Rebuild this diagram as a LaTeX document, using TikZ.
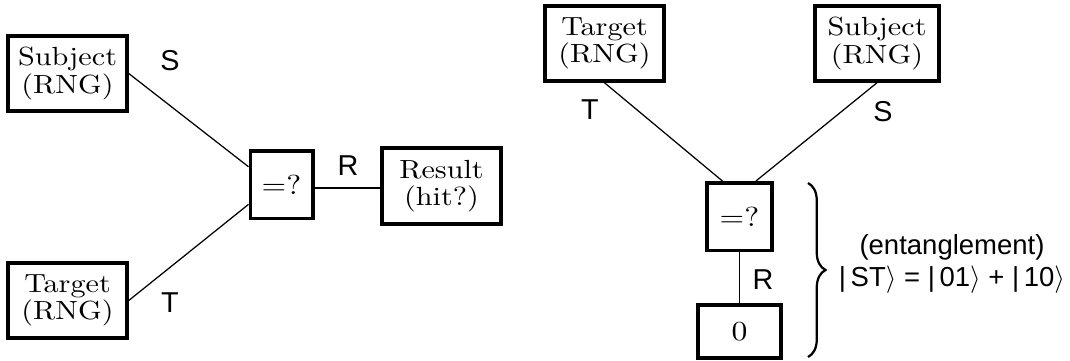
\documentclass[tikz,border=0pt]{standalone}
\usepackage{fontspec}
\newfontfamily\labelfont{Liberation Sans}
\newfontfamily\boxfont{lmroman10-regular.otf}[FakeStretch=1.15]
\usetikzlibrary{calc, positioning, decorations.pathreplacing}

\begin{document}
\begin{tikzpicture}[
    x=0.4pt, y=-0.4pt,
    box/.style={rectangle, draw, line width=1.4pt, minimum width=47.6pt, minimum height=30pt,
        inner sep=0pt, align=center, font=\boxfont\fontsize{10.5}{11}\selectfont},
    gate/.style={box, minimum width=25pt, minimum height=27pt, font=\boxfont\fontsize{11}{12}\selectfont},
    wire/.style={line width=0.5pt},
    tag/.style={font=\labelfont\fontsize{11.5}{13}\selectfont}
]
    \useasboundingbox (0,0) rectangle (1070,360);
    % --- 1. Left picture: two RNGs and a comparison ---
    \node (subjL) [box] at (67.5,73.5) {Subject\\(RNG)};
    \node (targL) [box] at (67.5,300.5) {Target\\(RNG)};
    \node (eqL) [gate] at (281.5,184.5) {=?};
    \node (resL) [box, minimum height=30.4pt] at (441.5,186) {Result\\(hit?)};
    \draw[wire] (subjL.east) -- ($(eqL.north west)!0.25!(eqL.south west)$);
    \draw[wire] (targL.east) -- ($(eqL.north west)!0.78!(eqL.south west)$);
    \coordinate (eqOut) at ($(eqL.north east)!0.55!(eqL.south east)$);
    \draw[wire] (eqOut) -- (eqOut -| resL.west);
    \node (lblSL) [tag] at (170,61) {S};
    \node (lblTL) [tag] at (170,303) {T};
    \node (lblRL) [tag] at (348,166) {R};
    % --- 2. Right picture: comparison forced to 0 ---
    \node (targR) [box] at (604.5,43.5) {Target\\(RNG)};
    \node (subjR) [box, minimum width=49.6pt] at (877,43.5) {Subject\\(RNG)};
    \node (eqR) [gate, minimum width=26pt] at (739.5,216.5) {=?};
    \node (zeroR) [box, minimum width=33.2pt, minimum height=21.2pt, font=\boxfont\fontsize{11}{12}\selectfont] at (739.5,331.5) {0};
    \draw[wire] (targR.south) -- ($(eqR.north west)!0.25!(eqR.north east)$);
    \draw[wire] (subjR.south) -- ($(eqR.north west)!0.74!(eqR.north east)$);
    \draw[wire] (eqR.south) -- (zeroR.north);
    \node (lblTR) [tag] at (590,110) {T};
    \node (lblSR) [tag] at (883,112) {S};
    \node (lblRR) [tag] at (763,280) {R};
    % --- 3. Brace and entanglement note ---
    \coordinate (braceTop) at (808,183);
    \coordinate (braceBot) at (808,357);
    \draw[decorate, decoration={brace, amplitude=7pt}, line width=0.9pt] (braceTop) -- (braceBot);
    \node (ent) [tag, align=center, font=\labelfont\fontsize{11}{13}\selectfont] at (952,264)
        {(entanglement)\\ |\,ST$\rangle$ = |\,01$\rangle$ + |\,10$\rangle$};
\end{tikzpicture}
\end{document}
